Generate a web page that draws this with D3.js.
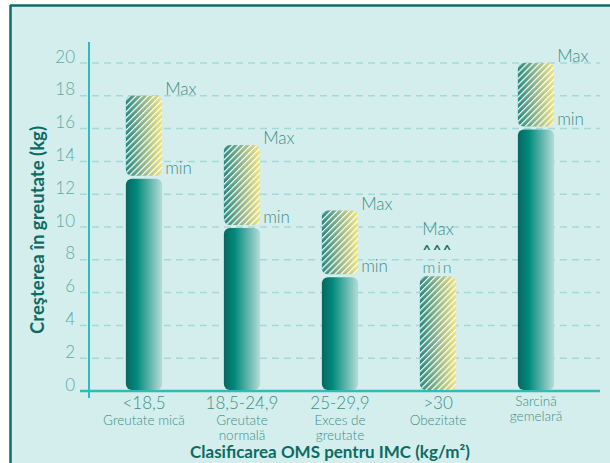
<!DOCTYPE html>
<html>
<head>
<meta charset="utf-8">
<script src="https://cdn.jsdelivr.net/npm/d3@7"></script>
<style>
  body { margin: 0; background: #fff; }
  text { font-family: "Lato", "DejaVu Sans", sans-serif; }
</style>
</head>
<body>
<div id="chart"></div>
<script>
const categories = ["<18,5", "18,5-24,9", "25-29,9", ">30", ""];
const subLabels = [["Greutate mică"], ["Greutate", "normală"], ["Exces de", "greutate"], ["Obezitate"], ["Sarcină", "gemelară"]];
const minGain = [13, 10, 7, 0, 16];
const maxGain = [18, 15, 11, 7, 20];
const yTicks = [0, 2, 4, 6, 8, 10, 12, 14, 16, 18, 20];

const w = 610;
const h = 463;

const svg = d3.select("#chart")
              .append("svg")
              .attr("width", w)
              .attr("height", h);

const defs = svg.append("defs");

const solidGrad = defs.append("linearGradient").attr("id", "solidGrad");
solidGrad.append("stop").attr("offset", "0%").attr("stop-color", "#07675f");
solidGrad.append("stop").attr("offset", "30%").attr("stop-color", "#018a7c");
solidGrad.append("stop").attr("offset", "100%").attr("stop-color", "#b6dcd9");

const hatchGrad = defs.append("linearGradient").attr("id", "hatchGrad");
hatchGrad.append("stop").attr("offset", "0%").attr("stop-color", "#238a80");
hatchGrad.append("stop").attr("offset", "50%").attr("stop-color", "#93b78b");
hatchGrad.append("stop").attr("offset", "100%").attr("stop-color", "#f2e47c");

const hatch = defs.append("pattern")
                  .attr("id", "hatch")
                  .attr("patternUnits", "userSpaceOnUse")
                  .attr("width", 4.3)
                  .attr("height", 4.3)
                  .attr("patternTransform", "rotate(45)");
hatch.append("line")
     .attr("x1", 0.6).attr("y1", 0).attr("x2", 0.6).attr("y2", 4.3)
     .attr("stroke", "#fff")
     .attr("stroke-width", 1.2);

// panel
svg.append("rect").attr("x", 10).attr("y", 5).attr("width", w - 10).attr("height", h - 5).attr("fill", "#d4eeed");
svg.append("line").attr("x1", 10).attr("x2", w).attr("y1", 5.5).attr("y2", 5.5).attr("stroke", "#0c6f67").attr("stroke-width", 2.5);
svg.append("line").attr("x1", 10.5).attr("x2", 10.5).attr("y1", 5).attr("y2", h).attr("stroke", "#0c6f67").attr("stroke-width", 2.5);

const xScale = d3.scaleBand()
                 .domain(d3.range(categories.length))
                 .range([95, 585])
                 .paddingInner(0.63)
                 .paddingOuter(0.315);
const bw = xScale.bandwidth();

const yScale = d3.scaleLinear()
                 .domain([0, 20])
                 .range([391, 63]);

// grid
svg.selectAll(".grid")
   .data(yTicks.filter(d => d > 0))
   .enter()
   .append("line")
   .attr("x1", 80).attr("x2", 600)
   .attr("y1", d => yScale(d)).attr("y2", d => yScale(d))
   .attr("stroke", "#a2dad9")
   .attr("stroke-width", 1.5)
   .attr("stroke-dasharray", "7,5");

const yAxis = d3.axisLeft(yScale).tickValues(yTicks).tickSize(0).tickPadding(14);
const gy = svg.append("g")
              .attr("transform", "translate(89, 0)")
              .call(yAxis);
gy.select(".domain").remove();
gy.selectAll("text")
  .attr("dy", -1)
  .style("font-size", "17px")
  .style("font-weight", 300)
  .attr("fill", "#5aaba3");

svg.append("line").attr("x1", 89).attr("x2", 89).attr("y1", 42).attr("y2", 398).attr("stroke", "#2cbcbb").attr("stroke-width", 2);
svg.append("line").attr("x1", 80).attr("x2", 600).attr("y1", yScale(0)).attr("y2", yScale(0)).attr("stroke", "#2cbcbb").attr("stroke-width", 2.5);

// solid bars (0 -> min)
const idx = d3.range(categories.length);
svg.selectAll(".solid")
   .data(idx.filter(i => minGain[i] > 0))
   .enter()
   .append("rect")
   .attr("x", i => xScale(i))
   .attr("y", i => yScale(minGain[i]) + 1)
   .attr("width", bw)
   .attr("height", i => yScale(0) - yScale(minGain[i]) - 2)
   .attr("rx", 6)
   .attr("fill", "url(#solidGrad)");

// hatched bars (min -> max)
const hatchTop = i => yScale(maxGain[i]);
const hatchBottom = i => minGain[i] > 0 ? yScale(minGain[i]) - 2 : yScale(0) - 1;
["url(#hatchGrad)", "url(#hatch)"].forEach(fill => {
  svg.selectAll(".none")
     .data(idx)
     .enter()
     .append("rect")
     .attr("x", i => xScale(i))
     .attr("y", hatchTop)
     .attr("width", bw)
     .attr("height", i => hatchBottom(i) - hatchTop(i))
     .attr("rx", 6)
     .attr("fill", fill);
});

// Max / min labels
idx.forEach(i => {
  if (minGain[i] > 0) {
    svg.append("text").attr("x", xScale(i) + bw + 3).attr("y", yScale(maxGain[i]) - 1)
       .style("font-size", "17px").style("font-weight", 300).attr("fill", "#3d8f8a").text("Max");
    svg.append("text").attr("x", xScale(i) + bw + 3).attr("y", yScale(minGain[i]) - 4)
       .style("font-size", "17px").style("font-weight", 300).attr("fill", "#3d8f8a").text("min");
  } else {
    const cx = xScale(i) + bw / 2;
    svg.append("text").attr("x", cx).attr("y", 235).attr("text-anchor", "middle")
       .style("font-size", "17px").style("font-weight", 300).attr("fill", "#3d8f8a").text("Max");
    svg.append("text").attr("x", cx).attr("y", 255).attr("text-anchor", "middle")
       .style("font-size", "14px").style("font-weight", "bold").style("letter-spacing", "2px")
       .attr("fill", "#0d6b63").text("^^^");
    svg.append("text").attr("x", cx).attr("y", 273).attr("text-anchor", "middle")
       .style("font-size", "16px").style("font-weight", 300).style("letter-spacing", "2px")
       .attr("fill", "#3d8f8a").text("min");
  }
});

// category labels
idx.forEach(i => {
  const cx = xScale(i) + bw / 2;
  const hasMain = categories[i] !== "";
  if (hasMain) {
    svg.append("text").attr("x", cx).attr("y", 409).attr("text-anchor", "middle")
       .style("font-size", "17px").style("font-weight", 300).attr("fill", "#3a8f88").text(categories[i]);
  }
  const base = hasMain ? 425 : 406;
  subLabels[i].forEach((s, k) => {
    svg.append("text").attr("x", cx).attr("y", base + k * 14.5).attr("text-anchor", "middle")
       .style("font-size", "13.5px").style("font-weight", 300).attr("fill", "#3a8f88").text(s);
  });
});

svg.append("text")
   .attr("transform", "translate(44, 230) rotate(-90)")
   .attr("text-anchor", "middle")
   .attr("textLength", 208)
   .attr("lengthAdjust", "spacingAndGlyphs")
   .style("font-size", "18px")
   .style("font-weight", "bold")
   .attr("fill", "#0d6b63")
   .text("Creşterea în greutate (kg)");

svg.append("text")
   .attr("x", 330)
   .attr("y", 458)
   .attr("text-anchor", "middle")
   .style("font-size", "17px")
   .style("font-weight", "bold")
   .attr("fill", "#0d6b63")
   .text("Clasificarea OMS pentru IMC (kg/m²)");
</script>
</body>
</html>
